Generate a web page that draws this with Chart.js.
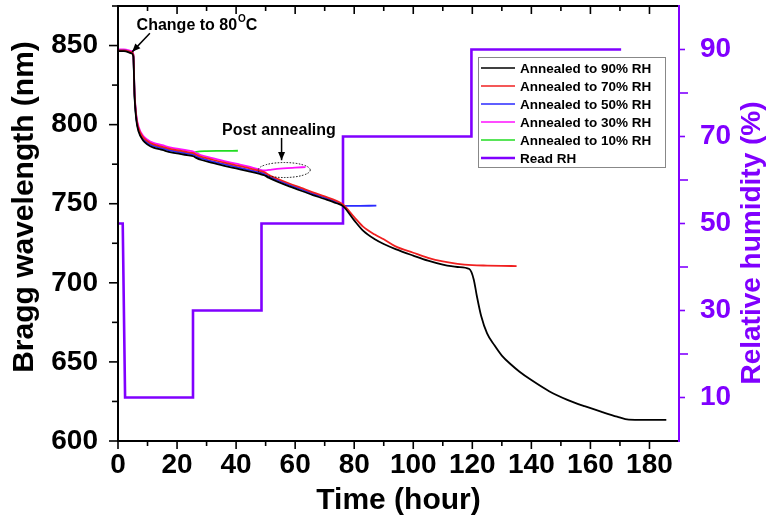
<!DOCTYPE html>
<html>
<head>
<meta charset="utf-8">
<script src="https://cdn.jsdelivr.net/npm/chart.js@4.4.1/dist/chart.umd.min.js"></script>
<style>
  html, body { margin: 0; padding: 0; background: #fff; }
  canvas { display: block; }
</style>
</head>
<body>
<canvas id="bragg" width="772" height="522"></canvas>
<script>
// shared time grid for the annealing curves (hours)
const tBase = [0, 2, 4.6, 5.2, 5.6, 6.2, 7, 8.5, 10, 12, 15, 18, 21, 24, 25.5, 26.5, 28, 32, 36, 40, 44, 48, 49.5, 51, 54, 58, 62, 66, 70, 74, 76.2];

// annealed to 90% RH (black)
const t90 = tBase.concat([80, 83, 87, 90, 94, 100, 105, 110, 115, 119, 120.5, 121.5, 123, 125, 127.5, 130, 133, 136, 140, 146, 152, 158, 164, 169, 173, 185.7]);
const bragg90 = [846.5, 846.5, 845, 843, 818, 803, 795.5, 790, 787.5, 785.5, 784, 782.5, 781.5, 780.5, 780, 779, 777.8, 775.8, 774, 772.3, 770.6, 768.8, 768, 766.5, 764, 761, 758.2, 755.5, 753, 750.3, 748.5,
  739.5, 733, 727.5, 724.5, 721.3, 717.2, 714, 711.5, 710, 708.7, 702, 692, 679, 668, 660.5, 654, 648.5, 643.8, 638.5, 631.5, 626.2, 622, 618.3, 615.4, 613.5, 613.3];

// annealed to 70% RH (red)
const t70 = tBase.concat([80, 83, 87, 90, 94, 100, 105, 110, 115, 120, 125, 130, 135]);
const bragg70 = [847, 847, 845.8, 844, 820, 805, 797.5, 792, 789.5, 787.5, 786, 784.5, 783.5, 782.5, 782, 781, 779.8, 777.8, 776, 774.3, 772.6, 770.8, 770, 768.3, 765.8, 762.8, 760, 757.2, 754.6, 751.8, 749.5,
  741.5, 735.5, 730.5, 727.5, 723, 719, 715.8, 713.5, 712, 711.2, 710.9, 710.7, 710.6];

// annealed to 50% RH (blue)
const t50 = tBase.concat([77, 80, 87.5]);
const bragg50 = [847, 847, 845.5, 843.5, 819, 804, 796.5, 791, 788.5, 786.5, 785, 783.5, 782.5, 781.5, 781, 780, 778.8, 776.8, 775, 773.3, 771.6, 769.8, 769, 767.4, 765, 762, 759.2, 756.4, 753.9, 751.2, 749,
  748.6, 748.6, 748.8];

// annealed to 30% RH (magenta)
const t30 = [0, 2, 4.6, 5.2, 5.6, 6.2, 7, 8.5, 10, 12, 15, 18, 21, 24, 25.5, 26.5, 28, 32, 36, 40, 44, 48, 49.5, 52, 56, 60, 63.5];
const bragg30 = [847.5, 847.5, 846.5, 844.5, 821, 806, 798.5, 793, 790.5, 788.5, 787, 785.5, 784.5, 783.5, 783, 782, 780.8, 778.8, 777, 775.3, 773.6, 771.5, 771, 771.6, 772.3, 772.8, 773.2];

// annealed to 10% RH (green)
const t10 = [0, 2, 4.6, 5.2, 5.6, 6.2, 7, 8.5, 10, 12, 15, 18, 21, 24, 25.5, 26.5, 30, 35, 40.6];
const bragg10 = [847, 847, 846, 844, 819.5, 804.5, 797, 791.5, 789, 787, 785.5, 784, 783, 782, 781.8, 782.8, 783.3, 783.4, 783.5];

// read relative humidity (purple, right axis)
const tRH = [0, 1.6, 2.4, 25.4, 25.4, 48.6, 48.6, 76.2, 76.2, 119.7, 119.7, 170.4];
const rh = [50, 50, 10, 10, 30, 30, 50, 50, 70, 70, 90, 90];

const xTicks = [0, 20, 40, 60, 80, 100, 120, 140, 160, 180];
const yTicks = [600, 650, 700, 750, 800, 850];
const rhTicks = [10, 30, 50, 70, 90];

const PURPLE = '#8000ff';
const FONT = "'Liberation Sans', Arial, sans-serif";

const pts = (xs, ys) => xs.map((x, i) => ({x, y: ys[i]}));

function curve(label, color, xs, ys) {
  return {label, data: pts(xs, ys), borderColor: color, backgroundColor: color,
    borderWidth: 1.8, pointRadius: 0, cubicInterpolationMode: 'monotone', yAxisID: 'y'};
}

const datasets = [
  curve('Annealed to 90% RH', '#000000', t90, bragg90),
  curve('Annealed to 70% RH', '#f02020', t70, bragg70),
  curve('Annealed to 50% RH', '#2a2aff', t50, bragg50),
  curve('Annealed to 30% RH', '#ff10ff', t30, bragg30),
  curve('Annealed to 10% RH', '#22dd22', t10, bragg10),
  {label: 'Read RH', data: pts(tRH, rh), borderColor: PURPLE, backgroundColor: PURPLE,
    borderWidth: 2.6, pointRadius: 0, tension: 0, yAxisID: 'y2'}
];

function seg(ctx, x1, y1, x2, y2) {
  ctx.beginPath(); ctx.moveTo(x1, y1); ctx.lineTo(x2, y2); ctx.stroke();
}

function arrow(ctx, x1, y1, x2, y2) {
  seg(ctx, x1, y1, x2, y2);
  const ang = Math.atan2(y2 - y1, x2 - x1), L = 9, W = 0.4;
  ctx.beginPath();
  ctx.moveTo(x2, y2);
  ctx.lineTo(x2 - L * Math.cos(ang - W), y2 - L * Math.sin(ang - W));
  ctx.lineTo(x2 - L * Math.cos(ang + W), y2 - L * Math.sin(ang + W));
  ctx.closePath(); ctx.fill();
}

function vTitle(ctx, text, cx, cy, color, size) {
  ctx.save();
  ctx.translate(cx, cy);
  ctx.rotate(-Math.PI / 2);
  ctx.font = `bold ${size}px ${FONT}`;
  ctx.fillStyle = color;
  ctx.textAlign = 'center'; ctx.textBaseline = 'middle';
  ctx.fillText(text, 0, 0);
  ctx.restore();
}

// frame, tick marks, axis titles, legend box and the two notes
const frame = {
  id: 'frame',
  afterDraw(chart) {
    const {ctx, chartArea: a, scales: {x, y, y2}} = chart;
    ctx.save();
    ctx.lineCap = 'butt';

    // x ticks: bottom (outward) and top (inward)
    ctx.strokeStyle = '#000'; ctx.lineWidth = 1.6;
    for (let v = 0; v <= 180; v += 10) {
      const px = x.getPixelForValue(v), len = v % 20 ? 5 : 8;
      seg(ctx, px, a.bottom, px, a.bottom + len);
      seg(ctx, px, a.top, px, a.top + len);
    }
    // left ticks
    for (let v = 600; v <= 875; v += 25) {
      const py = y.getPixelForValue(v), len = v % 50 ? 6 : 9;
      seg(ctx, a.left, py, a.left - len, py);
    }
    // right ticks
    ctx.strokeStyle = PURPLE;
    for (let v = 10; v <= 90; v += 10) {
      const py = y2.getPixelForValue(v), len = v % 20 ? 6 : 9;
      seg(ctx, a.right, py, a.right + len, py);
    }

    // axis lines
    ctx.lineWidth = 2;
    ctx.strokeStyle = '#000';
    seg(ctx, a.left, a.top, a.right, a.top);
    seg(ctx, a.left, a.bottom, a.right + 1, a.bottom);
    seg(ctx, a.left, a.top - 1, a.left, a.bottom + 1);
    ctx.strokeStyle = PURPLE;
    seg(ctx, a.right, a.top - 1, a.right, a.bottom + 1);

    // axis titles (both read bottom to top)
    vTitle(ctx, 'Bragg wavelength (nm)', 25, 207, '#000', 30);
    vTitle(ctx, 'Relative humidity (%)', 752, 243, PURPLE, 28);

    // legend
    const lx = 478, ly = 57, lw = 187, rowH = 18;
    const lh = rowH * chart.data.datasets.length + 2;
    ctx.fillStyle = '#fff';
    ctx.fillRect(lx, ly, lw, lh);
    ctx.strokeStyle = '#888'; ctx.lineWidth = 1;
    ctx.strokeRect(lx + 0.5, ly + 0.5, lw, lh);
    ctx.font = `bold 13.5px ${FONT}`;
    ctx.textBaseline = 'middle'; ctx.textAlign = 'left';
    chart.data.datasets.forEach((ds, i) => {
      const yy = ly + 11 + i * rowH;
      ctx.strokeStyle = ds.borderColor;
      ctx.lineWidth = i === 5 ? 2.5 : 1.5;
      seg(ctx, lx + 3, yy, lx + 37, yy);
      ctx.fillStyle = '#000';
      ctx.fillText(ds.label, lx + 42, yy + 1);
    });

    // "Change to 80°C"
    ctx.fillStyle = '#000'; ctx.strokeStyle = '#000'; ctx.lineWidth = 1.5;
    arrow(ctx, x.getPixelForValue(10.8), y.getPixelForValue(857.8), x.getPixelForValue(4.8), y.getPixelForValue(846));
    ctx.font = `bold 16px ${FONT}`;
    let tx = x.getPixelForValue(6.3), ty = y.getPixelForValue(862.8);
    ctx.fillText('Change to 80', tx, ty);
    tx += ctx.measureText('Change to 80').width + 1;
    ctx.font = `bold 10px ${FONT}`;
    ctx.fillText('O', tx, ty - 6);
    tx += ctx.measureText('O').width;
    ctx.font = `bold 16px ${FONT}`;
    ctx.fillText('C', tx, ty);

    // "Post annealing"
    ctx.textAlign = 'center';
    ctx.fillText('Post annealing', x.getPixelForValue(54.5), y.getPixelForValue(796));
    arrow(ctx, x.getPixelForValue(55.4), y.getPixelForValue(791.6), x.getPixelForValue(55.4), y.getPixelForValue(777.5));
    ctx.setLineDash([1.5, 1.5]); ctx.lineWidth = 1;
    ctx.beginPath();
    ctx.ellipse(x.getPixelForValue(56.3), y.getPixelForValue(771.3), 26, 7.5, 0, 0, Math.PI * 2);
    ctx.stroke();
    ctx.restore();
  }
};

const tickFont = {family: FONT, size: 28, weight: 'bold'};
const titleFont = {family: FONT, size: 30, weight: 'bold'};

const fitV = w => s => { s.width = w; s.paddingTop = 0; s.paddingBottom = 0; };

new Chart(document.getElementById('bragg'), {
  type: 'line',
  data: {datasets},
  options: {
    responsive: false,
    animation: false,
    layout: {padding: {top: 6, left: 0, right: 0, bottom: 0}},
    plugins: {legend: {display: false}, tooltip: {enabled: false}},
    scales: {
      x: {
        type: 'linear', min: 0, max: 190,
        afterBuildTicks: s => { s.ticks = xTicks.map(v => ({value: v})); },
        afterFit: s => { s.height = 81; s.paddingLeft = 0; s.paddingRight = 0; },
        grid: {display: false, drawTicks: false}, border: {display: false},
        ticks: {font: tickFont, color: '#000', padding: 7, maxRotation: 0, autoSkip: false},
        title: {display: true, text: 'Time (hour)', font: titleFont, color: '#000', padding: {top: 0, bottom: 3}}
      },
      y: {
        position: 'left', min: 600, max: 875,
        afterBuildTicks: s => { s.ticks = yTicks.map(v => ({value: v})); },
        afterFit: fitV(118),
        grid: {display: false, drawTicks: false}, border: {display: false},
        ticks: {font: tickFont, color: '#000', padding: 20}
      },
      y2: {
        position: 'right', min: 0, max: 100,
        afterBuildTicks: s => { s.ticks = rhTicks.map(v => ({value: v})); },
        afterFit: fitV(93),
        grid: {display: false, drawTicks: false}, border: {display: false},
        ticks: {font: tickFont, color: PURPLE, padding: 21}
      }
    }
  },
  plugins: [frame]
});
</script>
</body>
</html>
